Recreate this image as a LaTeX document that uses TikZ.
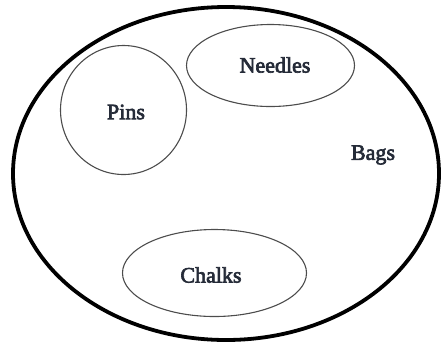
\documentclass[tikz,border=0pt]{standalone}
\usepackage{fontspec}
\setmainfont{Liberation Serif}[FakeBold=3]
\definecolor{txt}{HTML}{252B38}
\begin{document}
\begin{tikzpicture}[x=1pt,y=-1pt,
  outer/.style={draw=black,line width=3.8pt},
  inner/.style={draw=black!70,line width=1.1pt},
  lbl/.style={font=\fontsize{22}{24}\selectfont,text=txt}]
\useasboundingbox (0,0) rectangle (443,349);
\draw[outer] (226,173.5) ellipse [x radius=213, y radius=166.5];
\draw[inner] (123.5,110) ellipse [x radius=63, y radius=64.5];
\draw[inner] (270.5,65.5) ellipse [x radius=84, y radius=41];
\draw[inner] (214.5,273) ellipse [x radius=92, y radius=43.5];
\node[lbl] (needles) at (275,65) {Needles};
\node[lbl] (pins) at (126,112) {Pins};
\node[lbl] (bags) at (373,155) {Bags};
\node[lbl] (chalks) at (211,275) {Chalks};
\end{tikzpicture}
\end{document}
